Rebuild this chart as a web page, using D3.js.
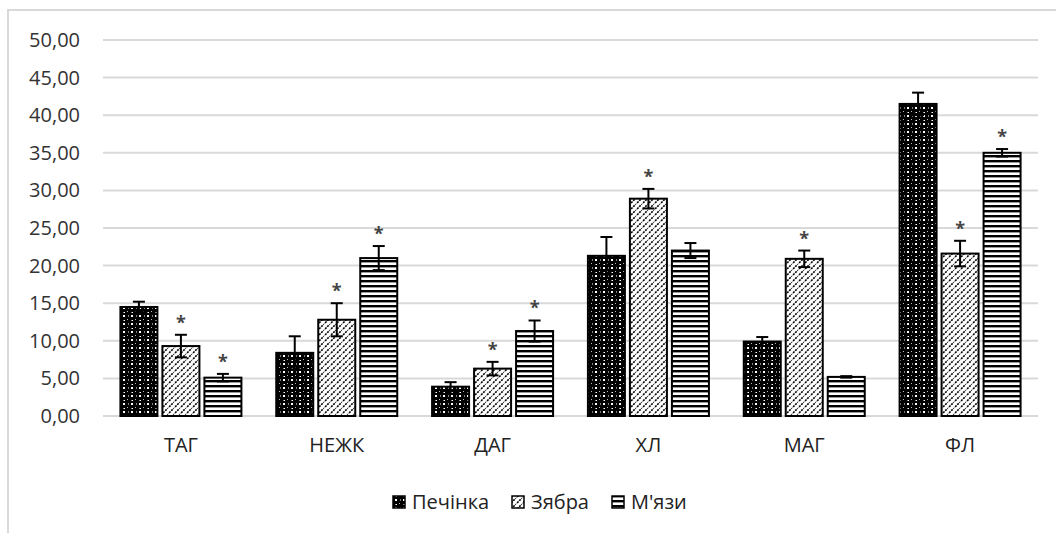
<!DOCTYPE html>
<html><head><meta charset="utf-8">
<script src="https://cdn.jsdelivr.net/npm/d3@7"></script>
<style>body{margin:0;background:#fff;} svg{display:block;}</style>
</head><body>
<svg id="c" width="1056" height="533"></svg>
<script>
const categories = ["ТАГ","НЕЖК","ДАГ","ХЛ","МАГ","ФЛ"];
const series = ["Печінка","Зябра","М'язи"];
const liver = [14.5, 8.4, 3.9, 21.3, 9.9, 41.5];
const gills = [9.3, 12.8, 6.3, 28.9, 20.9, 21.6];
const muscle = [5.1, 21.0, 11.3, 22.0, 5.2, 35.0];
const liverErr = [0.7, 2.2, 0.6, 2.5, 0.6, 1.5];
const gillsErr = [1.5, 2.2, 0.9, 1.3, 1.1, 1.7];
const muscleErr = [0.5, 1.6, 1.4, 1.0, 0.1, 0.5];
const gillsStar = [true, true, true, true, true, true];
const muscleStar = [true, true, true, false, false, true];
const liverStar = [false, false, false, false, false, false];
const yTicks = [0,5,10,15,20,25,30,35,40,45,50];

const svg = d3.select("#c");
const font = "'Open Sans', sans-serif";
const defs = svg.append("defs");

// Patterns
const p1 = defs.append("pattern").attr("id","pLiver").attr("patternUnits","userSpaceOnUse").attr("width",8).attr("height",8);
p1.append("rect").attr("width",8).attr("height",8).attr("fill","#000");
p1.append("rect").attr("x",3).attr("y",3).attr("width",2).attr("height",2).attr("fill","#fff");
p1.append("rect").attr("x",0).attr("y",3.5).attr("width",1).attr("height",1).attr("fill","#fff");
p1.append("rect").attr("x",3.5).attr("y",0).attr("width",1.5).attr("height",1).attr("fill","#fff");
p1.append("rect").attr("x",7).attr("y",7).attr("width",1).attr("height",1).attr("fill","#bbb");

const p2 = defs.append("pattern").attr("id","pGills").attr("patternUnits","userSpaceOnUse").attr("width",6).attr("height",6);
p2.append("rect").attr("width",6).attr("height",6).attr("fill","#fff");
p2.append("path").attr("d","M-1,7 L7,-1 M-4,4 L4,-4 M2,10 L10,2").attr("stroke","#000").attr("stroke-width",1.6).attr("stroke-dasharray","2,1");

const p3 = defs.append("pattern").attr("id","pMuscle").attr("patternUnits","userSpaceOnUse").attr("width",8).attr("height",5);
p3.append("rect").attr("width",8).attr("height",5).attr("fill","#fff");
p3.append("rect").attr("y",0).attr("width",8).attr("height",2.4).attr("fill","#000");

const fills = ["url(#pLiver)","url(#pGills)","url(#pMuscle)"];

// Frame
svg.append("rect").attr("x",8).attr("y",10).attr("width",1100).attr("height",600)
  .attr("fill","none").attr("stroke","#d9d9d9").attr("stroke-width",2);

const x0 = d3.scaleBand().domain(categories).range([103,1038]).padding(0);
const groupW = 121;
const x1 = d3.scaleBand().domain(series).range([0,groupW]).paddingInner(0.119).paddingOuter(0);
const y = d3.scaleLinear().domain([0,50]).range([416,40]);

// Gridlines
svg.append("g").selectAll("line").data(yTicks).join("line")
  .attr("x1",103).attr("x2",1038).attr("y1",d=>y(d)).attr("y2",d=>y(d))
  .attr("stroke","#d9d9d9").attr("stroke-width",2);

// Y axis labels
const yAxis = d3.axisLeft(y).tickValues(yTicks).tickSize(0).tickPadding(0)
  .tickFormat(d=>d3.format(".2f")(d).replace(".",","));
const ya = svg.append("g").attr("transform","translate(80,0)").call(yAxis);
ya.select(".domain").remove();
ya.selectAll("text").attr("font-family",font).attr("font-size",20).attr("fill","#333");

// X axis labels
const xAxis = d3.axisBottom(x0).tickSize(0).tickPadding(0);
const xa = svg.append("g").attr("transform","translate(0,436)").call(xAxis);
xa.select(".domain").remove();
xa.selectAll("text").attr("font-family",font).attr("font-size",20).attr("fill","#222").attr("dy","0.8em");

const vals = [liver, gills, muscle];
const errs = [liverErr, gillsErr, muscleErr];
const stars = [liverStar, gillsStar, muscleStar];
const rows = [];
categories.forEach((c,i)=>series.forEach((s,j)=>rows.push({c,s,j,v:vals[j][i],e:errs[j][i],star:stars[j][i]})));
const off = (x0.bandwidth()-groupW)/2;
const bx = d => x0(d.c)+off+x1(d.s);
const bw = x1.bandwidth();

svg.append("g").selectAll("rect").data(rows).join("rect")
  .attr("x",d=>bx(d)).attr("y",d=>y(d.v)).attr("width",bw).attr("height",d=>y(0)-y(d.v))
  .attr("fill",d=>fills[d.j]).attr("stroke","#000").attr("stroke-width",2);

// Error bars
const eg = svg.append("g").attr("stroke","#000").attr("stroke-width",2);
rows.forEach(d=>{
  const cx = bx(d)+bw/2;
  eg.append("line").attr("x1",cx).attr("x2",cx).attr("y1",y(d.v+d.e)).attr("y2",y(d.v-d.e));
  eg.append("line").attr("x1",cx-6).attr("x2",cx+6).attr("y1",y(d.v+d.e)).attr("y2",y(d.v+d.e));
  eg.append("line").attr("x1",cx-6).attr("x2",cx+6).attr("y1",y(d.v-d.e)).attr("y2",y(d.v-d.e));
});

// Asterisks
svg.append("g").selectAll("text").data(rows.filter(d=>d.star)).join("text")
  .attr("x",d=>bx(d)+bw/2).attr("y",d=>y(d.v+d.e)-6)
  .attr("text-anchor","middle").attr("font-family",font).attr("font-size",18).attr("font-weight","bold").attr("fill","#444")
  .text("*");

// Legend
const legX = [393,512,612];
const lg = svg.append("g");
series.forEach((s,j)=>{
  lg.append("rect").attr("x",legX[j]).attr("y",496).attr("width",12).attr("height",12)
    .attr("fill",fills[j]).attr("stroke","#000").attr("stroke-width",1.5);
  lg.append("text").attr("x",legX[j]+19).attr("y",502).attr("dy","0.35em")
    .attr("font-family",font).attr("font-size",20).attr("fill","#222").text(s);
});
</script>
</body></html>
